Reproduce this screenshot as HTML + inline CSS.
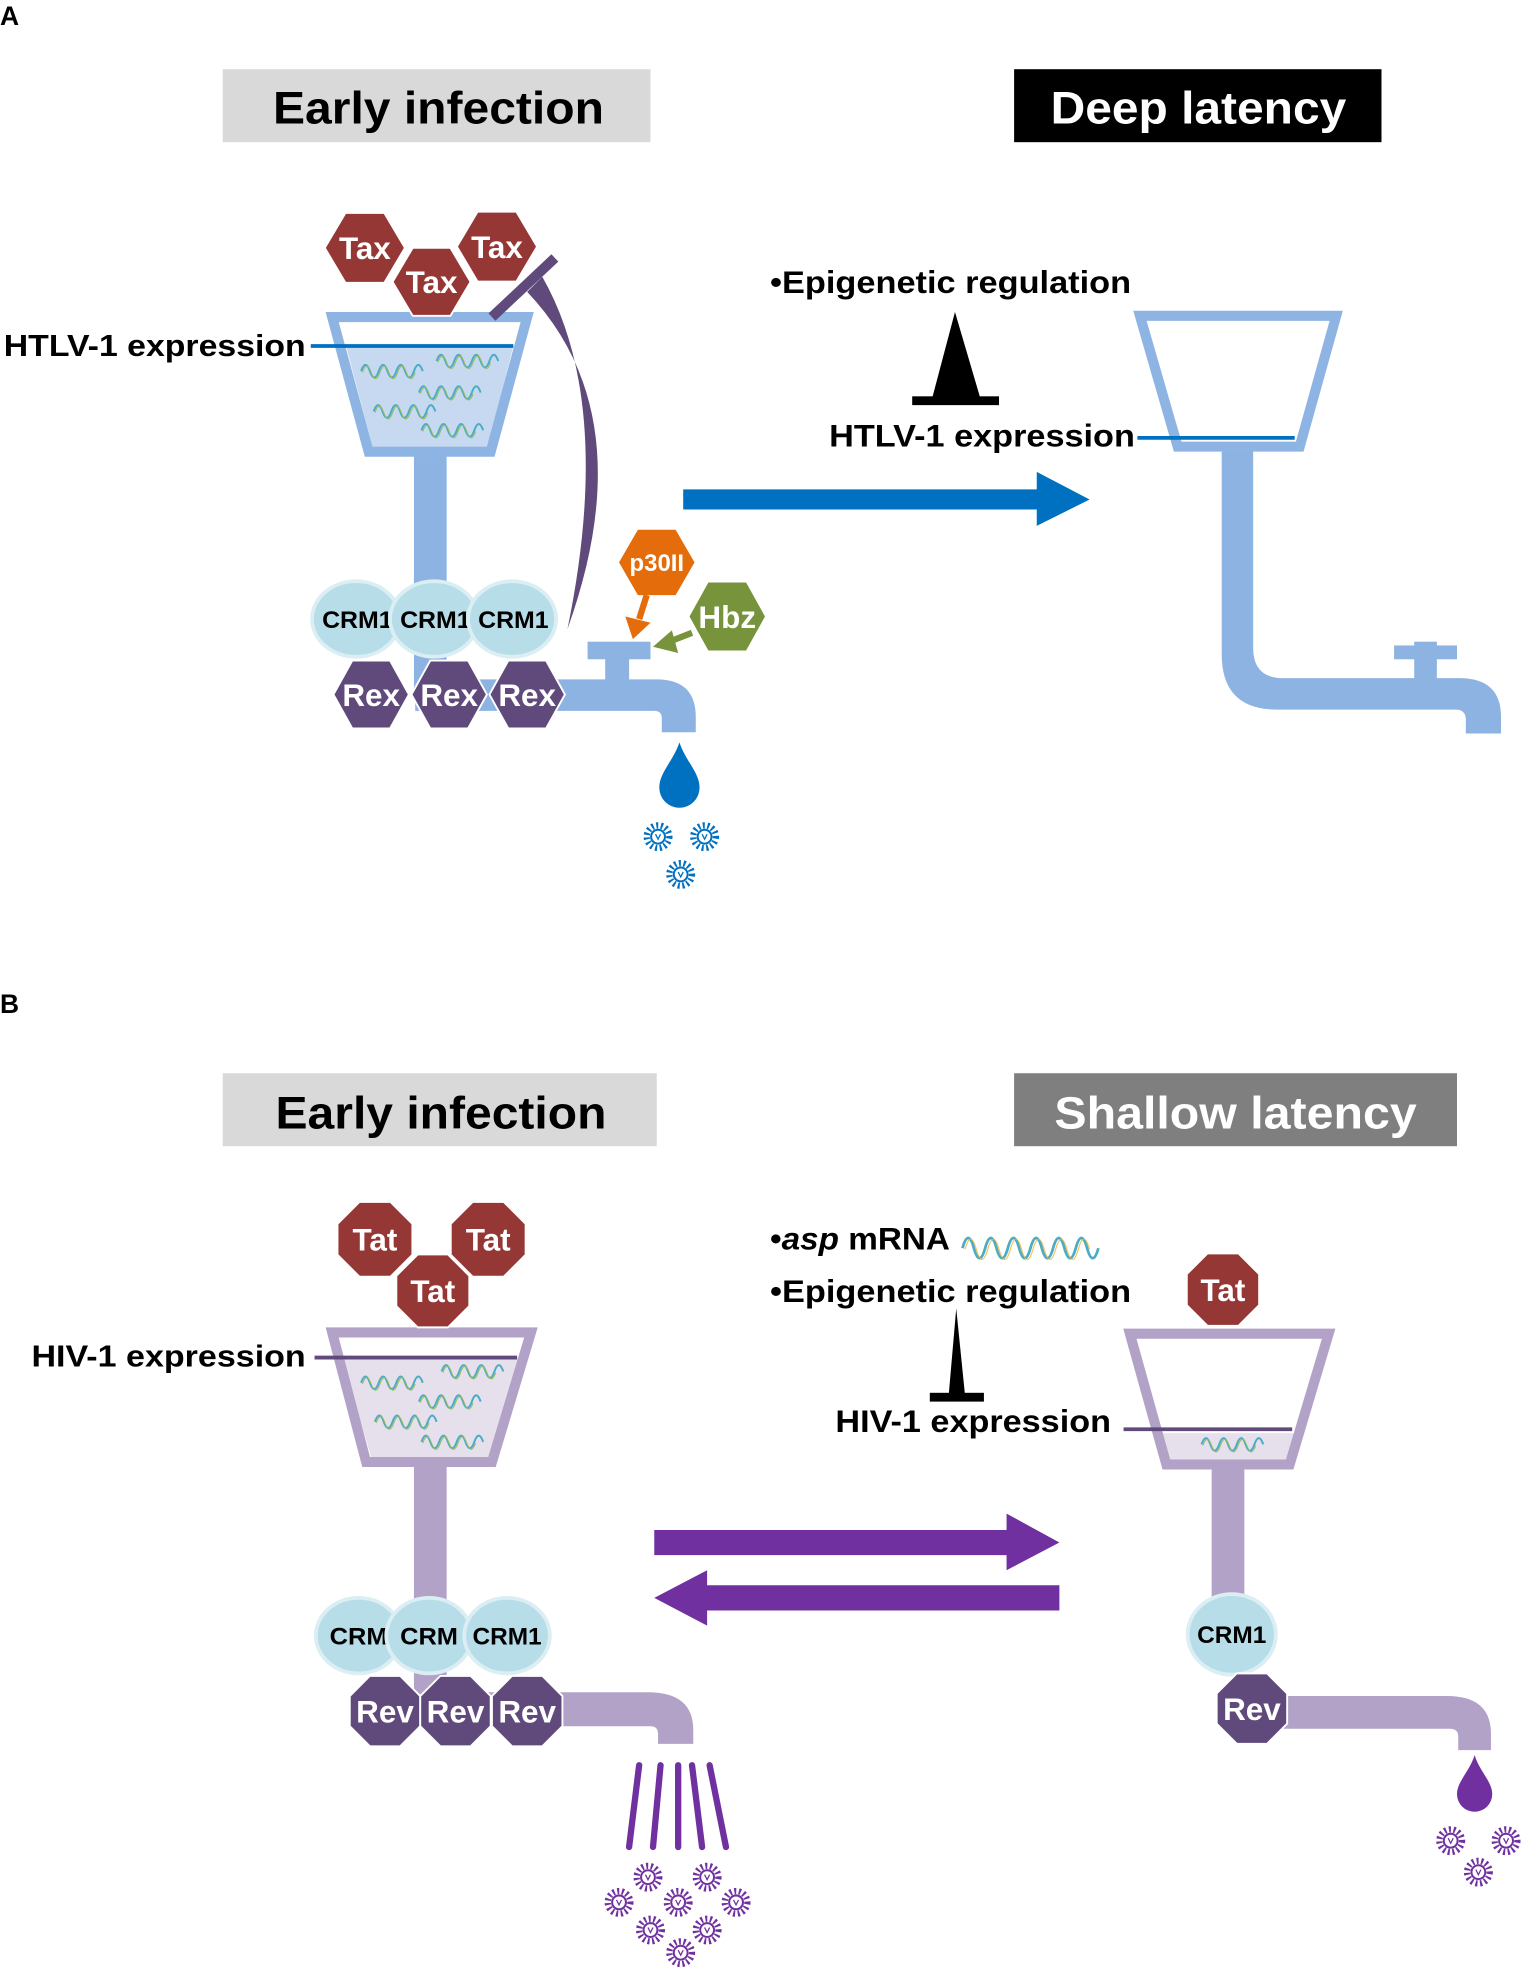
<!DOCTYPE html>
<html><head><meta charset="utf-8"><style>html,body{margin:0;padding:0;background:#fff}svg{display:block}text{font-family:"Liberation Sans",Arial,sans-serif;font-weight:bold}</style></head>
<body>
<svg width="1535" height="1981" viewBox="0 0 1220 1574.5" preserveAspectRatio="none" xmlns="http://www.w3.org/2000/svg">
<defs>
<g id="wv"><path d="M0,0 q3.5,-10 7,0 t7,0 t7,0 t7,0 t7,0 t7,0 t7,0" fill="none" stroke="#4bacc6" stroke-width="1.6"/><path d="M1,1 q3.5,-10 7,0 t7,0 t7,0 t7,0 t7,0 t7,0" fill="none" stroke="#9bbb59" stroke-width="0.8"/></g>
<g id="vA"><circle r="9" fill="none" stroke="#0070c0" stroke-width="5" stroke-dasharray="1.6 2.1"/><circle r="5.5" fill="#fff" stroke="#0070c0" stroke-width="1.6"/><path d="M-2,-2 L0,2 L2,-2" fill="none" stroke="#0070c0" stroke-width="1"/></g>
<g id="vB"><circle r="9" fill="none" stroke="#7030a0" stroke-width="5" stroke-dasharray="1.6 2.1"/><circle r="5.5" fill="#fff" stroke="#7030a0" stroke-width="1.6"/><path d="M-2,-2 L0,2 L2,-2" fill="none" stroke="#7030a0" stroke-width="1"/></g>
</defs>

<!-- ============ PANEL A ============ -->
<text x="0" y="20" font-size="21">A</text>
<rect x="177" y="55" width="340" height="58" fill="#d9d9d9"/>
<text x="217" y="98" font-size="36" textLength="263" lengthAdjust="spacingAndGlyphs">Early infection</text>
<rect x="806" y="55" width="292" height="58" fill="#000"/>
<text x="835" y="98" font-size="36" fill="#fff" textLength="235" lengthAdjust="spacingAndGlyphs">Deep latency</text>

<rect x="329" y="355" width="26" height="195" fill="#8db3e2"/>
<path d="M330,540 H522 Q553,540 553,570 V582 H526 V571 Q526,565 520,565 H330 Z" fill="#8db3e2"/>
<rect x="481" y="522" width="19" height="20" fill="#8db3e2"/>
<rect x="467" y="510" width="50" height="14" fill="#8db3e2"/>

<polygon points="264,252 419,252 390,359 293,359" fill="#fff"/>
<polygon points="275,275 408,275 388,355 296,355" fill="#c6d9f1"/>
<polygon points="264,252 419,252 390,359 293,359" fill="none" stroke="#8eb4e3" stroke-width="8" stroke-linejoin="miter"/>
<use href="#wv" x="287" y="295"/><use href="#wv" x="347" y="287"/><use href="#wv" x="333" y="312"/><use href="#wv" x="297" y="327"/><use href="#wv" x="335" y="342"/>
<line x1="247" y1="275" x2="408" y2="275" stroke="#0070c0" stroke-width="3"/>
<text x="3" y="283" font-size="24" textLength="240" lengthAdjust="spacingAndGlyphs">HTLV-1 expression</text>

<g transform="translate(290,197)"><polygon points="-31,0 -15,-27 15,-27 31,0 15,27 -15,27" fill="#953735"/><text y="9" font-size="25" fill="#fff" text-anchor="middle">Tax</text></g>
<g transform="translate(395,196)"><polygon points="-31,0 -15,-27 15,-27 31,0 15,27 -15,27" fill="#953735"/><text y="9" font-size="25" fill="#fff" text-anchor="middle">Tax</text></g>
<g transform="translate(343,224)"><polygon points="-31,0 -15,-27 15,-27 31,0 15,27 -15,27" fill="#953735" stroke="#fff" stroke-width="1.5"/><text y="9" font-size="25" fill="#fff" text-anchor="middle">Tax</text></g>

<path d="M451,500 Q512,330 419,232 L431,220 Q488,320 451,500 Z" fill="#604a7b"/>
<line x1="391" y1="252" x2="441" y2="205" stroke="#604a7b" stroke-width="8"/>

<ellipse cx="283" cy="492" rx="35" ry="30" fill="#b7dde8" stroke="#daeef3" stroke-width="3"/>
<text x="256" y="499" font-size="19" textLength="56" lengthAdjust="spacingAndGlyphs">CRM1</text>
<ellipse cx="345" cy="492" rx="35" ry="30" fill="#b7dde8" stroke="#daeef3" stroke-width="3"/>
<text x="318" y="499" font-size="19" textLength="56" lengthAdjust="spacingAndGlyphs">CRM1</text>
<ellipse cx="407" cy="492" rx="35" ry="30" fill="#b7dde8" stroke="#daeef3" stroke-width="3"/>
<text x="380" y="499" font-size="19" textLength="56" lengthAdjust="spacingAndGlyphs">CRM1</text>

<g transform="translate(295,552)"><polygon points="-30,0 -15,-27 15,-27 30,0 15,27 -15,27" fill="#604a7b" stroke="#fff" stroke-width="1.5"/><text y="9" font-size="25" fill="#fff" text-anchor="middle">Rex</text></g>
<g transform="translate(357,552)"><polygon points="-30,0 -15,-27 15,-27 30,0 15,27 -15,27" fill="#604a7b" stroke="#fff" stroke-width="1.5"/><text y="9" font-size="25" fill="#fff" text-anchor="middle">Rex</text></g>
<g transform="translate(419,552)"><polygon points="-30,0 -15,-27 15,-27 30,0 15,27 -15,27" fill="#604a7b" stroke="#fff" stroke-width="1.5"/><text y="9" font-size="25" fill="#fff" text-anchor="middle">Rex</text></g>

<g transform="translate(522,447)"><polygon points="-30,0 -15,-26 15,-26 30,0 15,26 -15,26" fill="#e46c0a"/><text y="7" font-size="19" fill="#fff" text-anchor="middle">p30II</text></g>
<g transform="translate(578,490)"><polygon points="-30,0 -15,-27 15,-27 30,0 15,27 -15,27" fill="#77933c"/><text y="9" font-size="25" fill="#fff" text-anchor="middle">Hbz</text></g>
<line x1="514" y1="473" x2="508" y2="492" stroke="#e46c0a" stroke-width="5"/>
<polygon points="497,490 517,495 503,508" fill="#e46c0a"/>
<line x1="550" y1="503" x2="532" y2="510" stroke="#77933c" stroke-width="5"/>
<polygon points="534,501 539,519 519,514" fill="#77933c"/>

<path d="M540,590 C545,605 556,614 556,626 A16,16 0 0 1 524,626 C524,614 535,605 540,590 Z" fill="#0070c0"/>
<use href="#vA" x="523" y="665"/><use href="#vA" x="560" y="665"/><use href="#vA" x="541" y="695"/>

<polygon points="543,389 824,389 824,375 866,397 824,418 824,405 543,405" fill="#0070c0"/>

<text x="612" y="233" font-size="25" textLength="287" lengthAdjust="spacingAndGlyphs">•Epigenetic regulation</text>
<polygon points="759,248 741,316 779,316" fill="#000"/>
<rect x="725" y="315" width="69" height="7" fill="#000"/>
<text x="659" y="355" font-size="25" textLength="243" lengthAdjust="spacingAndGlyphs">HTLV-1 expression</text>
<path d="M971,352 H996 V515 Q996,539 1020,539 H1160 Q1193,539 1193,570 V583 H1165 V572 Q1165,564 1157,564 H1015 Q971,564 971,520 Z" fill="#8db3e2"/>
<rect x="1124" y="510" width="18" height="30" fill="#8db3e2"/>
<rect x="1108" y="513" width="50" height="11" fill="#8db3e2"/>
<polygon points="906,251 1062,251 1033,355 936,355" fill="none" stroke="#8eb4e3" stroke-width="8"/>
<line x1="904" y1="348" x2="1029" y2="348" stroke="#0070c0" stroke-width="3"/>

<!-- ============ PANEL B ============ -->
<text x="0" y="805" font-size="21">B</text>
<rect x="177" y="853" width="345" height="58" fill="#d9d9d9"/>
<text x="219" y="897" font-size="36" textLength="263" lengthAdjust="spacingAndGlyphs">Early infection</text>
<rect x="806" y="853" width="352" height="58" fill="#7f7f7f"/>
<text x="838" y="897" font-size="36" fill="#fff" textLength="288" lengthAdjust="spacingAndGlyphs">Shallow latency</text>

<rect x="329" y="1158" width="26" height="200" fill="#b2a2c7"/>
<path d="M330,1345 H515 Q551,1345 551,1375 V1386 H523 V1378 Q523,1372 517,1372 H330 Z" fill="#b2a2c7"/>
<polygon points="264,1059 422,1059 391,1162 291,1162" fill="#fff"/>
<polygon points="272,1080 413,1080 388,1158 295,1158" fill="#e6e0ec"/>
<polygon points="264,1059 422,1059 391,1162 291,1162" fill="none" stroke="#b2a2c7" stroke-width="8"/>
<use href="#wv" x="287" y="1099"/><use href="#wv" x="351" y="1090"/><use href="#wv" x="333" y="1114"/><use href="#wv" x="298" y="1130"/><use href="#wv" x="335" y="1146"/>
<line x1="250" y1="1079" x2="411" y2="1079" stroke="#604a7b" stroke-width="3"/>
<text x="25" y="1086" font-size="24" textLength="218" lengthAdjust="spacingAndGlyphs">HIV-1 expression</text>

<g transform="translate(298,985)"><polygon points="-12,-29 12,-29 29,-12 29,12 12,29 -12,29 -29,12 -29,-12" fill="#953735"/><text y="9" font-size="25" fill="#fff" text-anchor="middle">Tat</text></g>
<g transform="translate(388,985)"><polygon points="-12,-29 12,-29 29,-12 29,12 12,29 -12,29 -29,12 -29,-12" fill="#953735"/><text y="9" font-size="25" fill="#fff" text-anchor="middle">Tat</text></g>
<g transform="translate(344,1026)"><polygon points="-12,-29 12,-29 29,-12 29,12 12,29 -12,29 -29,12 -29,-12" fill="#953735" stroke="#fff" stroke-width="1.5"/><text y="9" font-size="25" fill="#fff" text-anchor="middle">Tat</text></g>

<ellipse cx="285" cy="1300" rx="34" ry="30" fill="#b7dde8" stroke="#daeef3" stroke-width="3"/>
<text x="285" y="1307" font-size="19" text-anchor="middle" textLength="46" lengthAdjust="spacingAndGlyphs">CRM</text>
<ellipse cx="341" cy="1300" rx="34" ry="30" fill="#b7dde8" stroke="#daeef3" stroke-width="3"/>
<text x="341" y="1307" font-size="19" text-anchor="middle" textLength="46" lengthAdjust="spacingAndGlyphs">CRM</text>
<ellipse cx="403" cy="1300" rx="34" ry="30" fill="#b7dde8" stroke="#daeef3" stroke-width="3"/>
<text x="403" y="1307" font-size="19" text-anchor="middle" textLength="55" lengthAdjust="spacingAndGlyphs">CRM1</text>

<g transform="translate(306,1360)"><polygon points="-12,-28 12,-28 28,-12 28,12 12,28 -12,28 -28,12 -28,-12" fill="#604a7b" stroke="#fff" stroke-width="1.5"/><text y="9" font-size="25" fill="#fff" text-anchor="middle">Rev</text></g>
<g transform="translate(362,1360)"><polygon points="-12,-28 12,-28 28,-12 28,12 12,28 -12,28 -28,12 -28,-12" fill="#604a7b" stroke="#fff" stroke-width="1.5"/><text y="9" font-size="25" fill="#fff" text-anchor="middle">Rev</text></g>
<g transform="translate(419,1360)"><polygon points="-12,-28 12,-28 28,-12 28,12 12,28 -12,28 -28,12 -28,-12" fill="#604a7b" stroke="#fff" stroke-width="1.5"/><text y="9" font-size="25" fill="#fff" text-anchor="middle">Rev</text></g>

<g stroke="#7030a0" stroke-width="5" stroke-linecap="round">
<line x1="508" y1="1403" x2="500" y2="1468"/><line x1="525" y1="1403" x2="519" y2="1468"/><line x1="539" y1="1403" x2="539" y2="1468"/><line x1="550" y1="1403" x2="558" y2="1468"/><line x1="564" y1="1403" x2="577" y2="1468"/>
</g>
<use href="#vB" x="515" y="1492"/><use href="#vB" x="562" y="1492"/><use href="#vB" x="492" y="1512"/><use href="#vB" x="539" y="1512"/><use href="#vB" x="585" y="1512"/><use href="#vB" x="517" y="1534"/><use href="#vB" x="562" y="1534"/><use href="#vB" x="541" y="1552"/>

<polygon points="520,1216 800,1216 800,1203 842,1226 800,1248 800,1236 520,1236" fill="#7030a0"/>
<polygon points="842,1260 562,1260 562,1248 520,1270 562,1292 562,1280 842,1280" fill="#7030a0"/>

<text x="612" y="993" font-size="25" textLength="143" lengthAdjust="spacingAndGlyphs">•<tspan font-style="italic">asp</tspan> mRNA</text>
<path d="M765,992 q4.5,-16 9,0 t9,0 t9,0 t9,0 t9,0 t9,0 t9,0 t9,0 t9,0 t9,0 t9,0 t9,0" fill="none" stroke="#4bacc6" stroke-width="2.2"/>
<path d="M767,993 q4.5,-16 9,0 t9,0 t9,0 t9,0 t9,0 t9,0 t9,0 t9,0 t9,0 t9,0 t9,0" fill="none" stroke="#f0b030" stroke-width="0.9" opacity="0.8"/>
<text x="612" y="1035" font-size="25" textLength="287" lengthAdjust="spacingAndGlyphs">•Epigenetic regulation</text>
<polygon points="760,1040 754,1109 767,1109" fill="#000"/>
<rect x="739" y="1107" width="43" height="7" fill="#000"/>
<text x="664" y="1138" font-size="25" textLength="219" lengthAdjust="spacingAndGlyphs">HIV-1 expression</text>

<rect x="963" y="1160" width="26" height="120" fill="#b2a2c7"/>
<path d="M990,1348 H1150 Q1185,1348 1185,1378 V1391 H1159 V1380 Q1159,1374 1152,1374 H990 Z" fill="#b2a2c7"/>
<polygon points="898,1060 1056,1060 1025,1164 927,1164" fill="#fff"/>
<polygon points="923,1139 1029,1139 1022,1160 930,1160" fill="#e6e0ec"/>
<polygon points="898,1060 1056,1060 1025,1164 927,1164" fill="none" stroke="#b2a2c7" stroke-width="8"/>
<use href="#wv" x="955" y="1148"/>
<line x1="893" y1="1136" x2="1027" y2="1136" stroke="#604a7b" stroke-width="3"/>
<g transform="translate(972,1025)"><polygon points="-12,-28 12,-28 28,-12 28,12 12,28 -12,28 -28,12 -28,-12" fill="#953735"/><text y="9" font-size="25" fill="#fff" text-anchor="middle">Tat</text></g>
<ellipse cx="979" cy="1299" rx="35" ry="32" fill="#b7dde8" stroke="#daeef3" stroke-width="3"/>
<text x="979" y="1306" font-size="19" text-anchor="middle" textLength="55" lengthAdjust="spacingAndGlyphs">CRM1</text>
<g transform="translate(995,1358)"><polygon points="-12,-28 12,-28 28,-12 28,12 12,28 -12,28 -28,12 -28,-12" fill="#604a7b" stroke="#fff" stroke-width="1.5"/><text y="9" font-size="25" fill="#fff" text-anchor="middle">Rev</text></g>
<path d="M1172,1395 C1176,1408 1186,1416 1186,1426 A14,14 0 0 1 1158,1426 C1158,1416 1168,1408 1172,1395 Z" fill="#7030a0"/>
<use href="#vB" x="1153" y="1463"/><use href="#vB" x="1197" y="1463"/><use href="#vB" x="1175" y="1488"/>
</svg>
</body></html>
